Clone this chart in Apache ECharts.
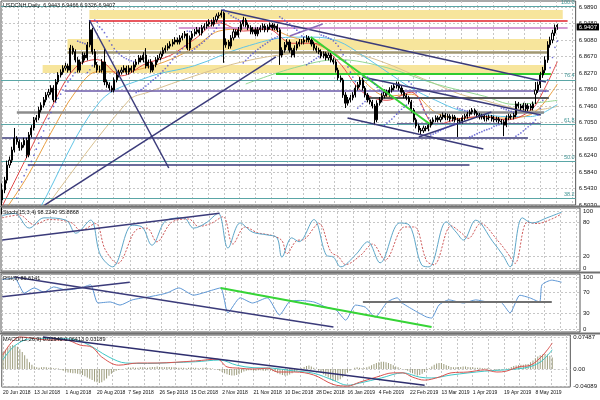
<!DOCTYPE html>
<html><head><meta charset="utf-8">
<script src="https://cdn.jsdelivr.net/npm/echarts@6/dist/echarts.min.js"></script>
<style>html,body{margin:0;padding:0;background:#fff}#c{width:600px;height:400px}</style>
</head><body><div id="c"></div>
<script>
// ---------- DATA ----------
const dateLabels = ['20 Jun 2018','13 Jul 2018','1 Aug 2018','20 Aug 2018','7 Sep 2018','26 Sep 2018','15 Oct 2018','2 Nov 2018','21 Nov 2018','10 Dec 2018','28 Dec 2018','16 Jan 2019','4 Feb 2019','22 Feb 2019','13 Mar 2019','1 Apr 2019','19 Apr 2019','8 May 2019'];
const priceTicks = [6.5030,6.5430,6.5840,6.6240,6.6650,6.7050,6.7460,6.7860,6.8270,6.8670,6.9080,6.9480,6.9890];
const stochTicks = [0,20,80,100];
const rsiTicks = [0,30,70,100];
const macdTicks = [-0.04089,0,0.07487];

const opens = [6.515,6.540,6.564,6.601,6.613,6.638,6.667,6.658,6.643,6.650,
6.662,6.626,6.675,6.692,6.712,6.717,6.736,6.748,6.761,6.773,
6.780,6.790,6.761,6.805,6.822,6.829,6.839,6.844,6.834,6.888,
6.879,6.859,6.834,6.854,6.871,6.864,6.896,6.933,6.879,6.847,
6.834,6.834,6.854,6.805,6.798,6.790,6.785,6.810,6.822,
6.829,6.834,6.839,6.829,6.839,6.834,6.847,6.854,6.864,6.859,
6.871,6.844,6.854,6.834,6.847,6.859,6.864,6.874,6.883,6.888,
6.893,6.898,6.903,6.908,6.903,6.913,6.918,6.923,6.888,6.913,
6.923,6.928,6.933,6.925,6.938,6.942,6.947,6.952,6.947,6.957,
6.967,6.969,6.974,6.896,6.903,6.893,6.913,6.928,6.920,6.933,
6.947,6.957,6.945,6.938,6.928,6.933,6.923,6.933,6.938,6.942,
6.933,6.940,6.945,6.938,6.942,6.933,6.871,6.883,6.896,6.903,
6.883,6.871,6.888,6.898,6.903,6.903,6.908,6.913,6.908,
6.898,6.888,6.883,6.879,6.869,6.874,6.864,6.871,6.859,6.854,
6.834,6.815,6.810,6.773,6.753,6.761,6.766,6.773,6.790,6.798,
6.810,6.790,6.773,6.761,6.756,6.746,6.712,6.753,6.761,6.771,
6.780,6.775,6.785,6.790,6.795,6.800,6.790,6.780,6.771,6.766,
6.756,6.736,6.712,6.697,6.687,6.685,6.692,6.690,6.699,6.707,
6.712,6.717,6.712,6.719,6.724,6.717,6.721,6.714,6.719,6.712,
6.709,6.709,6.717,6.721,6.726,6.731,6.736,6.729,6.724,6.719,
6.721,6.714,6.717,6.719,6.714,6.712,6.714,6.709,6.707,
6.699,6.717,6.721,6.719,6.724,6.751,6.746,6.741,6.748,6.739,
6.746,6.741,6.775,6.785,6.798,6.822,6.834,6.859,6.896,6.908,
6.925,6.944];
const closes = [6.540,6.564,6.601,6.613,6.638,6.667,6.658,6.643,6.650,6.662,
6.626,6.675,6.692,6.712,6.717,6.736,6.748,6.761,6.773,6.780,
6.790,6.761,6.805,6.822,6.829,6.839,6.844,6.834,6.888,6.879,
6.859,6.834,6.854,6.871,6.864,6.896,6.933,6.879,6.847,6.834,
6.834,6.854,6.805,6.798,6.790,6.785,6.810,6.822,6.829,
6.834,6.839,6.829,6.839,6.834,6.847,6.854,6.864,6.859,6.871,
6.844,6.854,6.834,6.847,6.859,6.864,6.874,6.883,6.888,6.893,
6.898,6.903,6.908,6.903,6.913,6.918,6.923,6.888,6.913,6.923,
6.928,6.933,6.925,6.938,6.942,6.947,6.952,6.947,6.957,6.967,
6.969,6.974,6.896,6.903,6.893,6.913,6.928,6.920,6.933,6.947,
6.957,6.945,6.938,6.928,6.933,6.923,6.933,6.938,6.942,6.933,
6.940,6.945,6.938,6.942,6.933,6.871,6.883,6.896,6.903,6.883,
6.871,6.888,6.898,6.903,6.903,6.908,6.913,6.908,6.898,
6.888,6.883,6.879,6.869,6.874,6.864,6.871,6.859,6.854,6.834,
6.815,6.810,6.773,6.753,6.761,6.766,6.773,6.790,6.798,6.810,
6.790,6.773,6.761,6.756,6.746,6.712,6.753,6.761,6.771,6.780,
6.775,6.785,6.790,6.795,6.800,6.790,6.780,6.771,6.766,6.756,
6.736,6.712,6.697,6.687,6.685,6.692,6.690,6.699,6.707,6.712,
6.717,6.712,6.719,6.724,6.717,6.721,6.714,6.719,6.712,6.709,
6.709,6.717,6.721,6.726,6.731,6.736,6.729,6.724,6.719,6.721,
6.714,6.717,6.719,6.714,6.712,6.714,6.709,6.707,6.699,
6.717,6.721,6.719,6.724,6.751,6.746,6.741,6.748,6.739,6.746,
6.741,6.751,6.785,6.798,6.822,6.834,6.859,6.896,6.908,6.925,
6.938,6.941];
const highs = [6.556,6.572,6.612,6.622,6.646,6.692,6.672,6.664,6.657,6.668,
6.668,6.682,6.699,6.719,6.724,6.744,6.755,6.768,6.780,6.788,
6.797,6.797,6.812,6.829,6.836,6.846,6.852,6.850,6.896,6.894,
6.885,6.866,6.860,6.878,6.877,6.903,6.957,6.938,6.886,6.854,
6.845,6.861,6.888,6.811,6.804,6.796,6.816,6.829,6.835,
6.841,6.846,6.845,6.846,6.845,6.854,6.861,6.871,6.870,6.878,
6.888,6.860,6.861,6.853,6.866,6.871,6.880,6.890,6.895,6.900,
6.905,6.910,6.915,6.914,6.920,6.925,6.930,6.925,6.919,6.930,
6.935,6.940,6.939,6.945,6.949,6.954,6.959,6.958,6.964,6.973,
6.976,6.982,6.978,6.912,6.908,6.920,6.935,6.934,6.940,6.954,
6.965,6.962,6.951,6.944,6.940,6.939,6.940,6.944,6.949,6.948,
6.946,6.951,6.950,6.948,6.947,6.938,6.890,6.903,6.910,6.909,
6.889,6.895,6.905,6.910,6.910,6.915,6.920,6.918,6.913,
6.904,6.894,6.889,6.885,6.880,6.879,6.877,6.876,6.865,6.860,
6.840,6.821,6.815,6.780,6.768,6.773,6.780,6.797,6.805,6.817,
6.815,6.795,6.778,6.766,6.761,6.751,6.760,6.768,6.778,6.787,
6.786,6.792,6.797,6.802,6.806,6.805,6.795,6.785,6.776,6.771,
6.761,6.741,6.717,6.702,6.692,6.698,6.697,6.705,6.713,6.718,
6.723,6.722,6.725,6.730,6.729,6.727,6.726,6.725,6.724,6.717,
6.715,6.723,6.727,6.732,6.737,6.741,6.740,6.734,6.729,6.727,
6.726,6.723,6.725,6.724,6.722,6.720,6.719,6.714,6.712,
6.723,6.727,6.726,6.730,6.758,6.756,6.751,6.754,6.753,6.752,
6.751,6.757,6.805,6.806,6.830,6.842,6.868,6.905,6.916,6.933,
6.946,6.947];
const lows = [6.480,6.532,6.556,6.594,6.606,6.632,6.651,6.636,6.637,6.644,
6.618,6.620,6.669,6.686,6.706,6.711,6.730,6.742,6.755,6.767,
6.774,6.755,6.755,6.799,6.816,6.823,6.833,6.828,6.828,6.872,
6.853,6.828,6.828,6.848,6.858,6.858,6.890,6.872,6.840,6.828,
6.828,6.828,6.797,6.791,6.784,6.780,6.779,6.804,6.816,
6.823,6.828,6.823,6.823,6.828,6.828,6.841,6.848,6.853,6.853,
6.838,6.838,6.828,6.829,6.841,6.853,6.858,6.868,6.877,6.882,
6.887,6.892,6.897,6.897,6.897,6.907,6.912,6.883,6.882,6.907,
6.917,6.922,6.919,6.919,6.932,6.936,6.941,6.941,6.941,6.951,
6.961,6.963,6.852,6.889,6.886,6.887,6.907,6.914,6.914,6.927,
6.941,6.939,6.932,6.922,6.922,6.917,6.917,6.927,6.932,6.927,
6.927,6.934,6.932,6.932,6.927,6.847,6.865,6.877,6.890,6.877,
6.865,6.865,6.882,6.892,6.897,6.897,6.902,6.902,6.892,
6.882,6.877,6.873,6.863,6.863,6.858,6.858,6.853,6.848,6.828,
6.809,6.804,6.766,6.741,6.747,6.755,6.760,6.767,6.784,6.792,
6.784,6.767,6.755,6.750,6.740,6.699,6.706,6.747,6.755,6.765,
6.769,6.769,6.779,6.784,6.789,6.784,6.774,6.765,6.760,6.750,
6.730,6.706,6.691,6.681,6.675,6.680,6.684,6.684,6.693,6.701,
6.706,6.706,6.706,6.713,6.711,6.711,6.708,6.708,6.706,6.670,
6.703,6.703,6.711,6.715,6.720,6.725,6.723,6.718,6.713,6.713,
6.708,6.708,6.711,6.708,6.706,6.706,6.703,6.701,6.672,
6.694,6.711,6.713,6.713,6.718,6.740,6.735,6.735,6.733,6.733,
6.735,6.735,6.751,6.778,6.790,6.815,6.827,6.852,6.889,6.900,
6.918,6.933];
const sarValues = [6.450,6.455,6.460,6.470,6.480,6.500,6.520,6.540,6.560,6.575,
6.590,6.600,6.610,6.625,6.640,6.655,6.670,6.685,6.700,6.715,
6.730,6.745,6.755,6.765,6.775,6.785,6.795,6.805,6.812,6.820,
6.828,6.905,6.903,6.901,6.899,6.828,6.835,6.845,6.957,6.952,
6.940,6.934,6.926,6.916,6.906,6.896,6.887,6.880,6.874,
6.869,6.865,6.862,6.859,6.857,6.855,6.779,6.782,6.786,6.790,
6.795,6.800,6.805,6.810,6.815,6.820,6.826,6.832,6.838,6.845,
6.852,6.860,6.867,6.874,6.880,6.887,6.893,6.930,6.929,6.882,
6.886,6.891,6.896,6.900,6.905,6.911,6.917,6.923,6.930,6.937,
6.945,6.952,6.982,6.978,6.973,6.968,6.964,6.961,6.958,6.955,
6.852,6.858,6.864,6.870,6.875,6.880,6.885,6.890,6.894,6.898,
6.902,6.906,6.910,6.913,6.916,6.965,6.961,6.956,6.951,6.947,
6.942,6.937,6.932,6.927,6.918,6.916,6.847,6.851,6.855,
6.859,6.863,6.867,6.920,6.918,6.916,6.913,6.910,6.906,6.900,
6.893,6.884,6.872,6.857,6.842,6.829,6.817,6.806,6.741,6.746,
6.752,6.757,6.817,6.813,6.808,6.800,6.792,6.785,6.779,6.699,
6.704,6.709,6.714,6.720,6.726,6.732,6.738,6.743,6.748,6.806,
6.800,6.791,6.779,6.765,6.750,6.737,6.726,6.717,6.675,6.677,
6.680,6.683,6.686,6.689,6.692,6.695,6.698,6.700,6.702,6.741,
6.739,6.737,6.735,6.734,6.670,6.672,6.675,6.678,6.681,6.683,
6.686,6.688,6.690,6.692,6.696,6.698,6.700,6.741,6.739,
6.737,6.735,6.733,6.731,6.672,6.676,6.680,6.685,6.690,6.695,
6.700,6.705,6.712,6.724,6.740,6.760,6.782,6.810,6.840,6.865,
6.890,6.905];
const macdHist = [0.040,0.045,0.050,0.054,0.056,0.055,0.052,0.046,0.040,0.032,0.024,0.016,0.010,
0.006,0.004,0.003,0.004,0.005,0.004,0.003,0.003,0.002,0.002,0.001,
-0.002,-0.004,-0.006,-0.008,-0.009,-0.010,-0.010,-0.011,-0.012,
-0.014,-0.017,-0.020,-0.023,-0.026,-0.029,-0.031,-0.033,-0.031,-0.027,-0.022,-0.016,
-0.011,-0.007,-0.004,-0.002,-0.001,0.000,
0.002,0.003,0.003,0.004,0.003,0.003,0.004,0.004,0.003,0.003,
0.004,0.005,0.005,0.006,0.005,0.005,0.004,0.005,0.005,0.004,0.004,0.003,0.003,0.003,0.003,
0.002,0.003,0.003,0.003,0.003,0.002,0.002,0.003,0.003,0.002,0.002,0.001,0.000,
-0.002,-0.004,-0.007,-0.010,-0.012,-0.014,-0.015,-0.015,-0.014,-0.012,-0.009,-0.006,-0.004,
-0.003,-0.003,-0.004,-0.004,-0.003,-0.003,-0.004,-0.004,-0.003,-0.004,
-0.005,-0.007,-0.010,-0.012,-0.014,-0.015,-0.015,-0.013,-0.010,-0.007,
-0.005,-0.001,0.002,0.005,0.007,0.008,0.006,0.003,
0.000,-0.004,-0.008,-0.012,-0.016,-0.020,-0.024,-0.027,-0.028,-0.027,-0.024,-0.019,-0.013,-0.008,
-0.004,0.000,0.003,0.004,0.003,0.002,0.002,
0.004,0.006,0.009,0.012,0.014,0.016,0.017,0.017,0.016,0.014,0.012,0.009,0.006,0.004,0.002,
0.000,-0.002,-0.004,-0.007,-0.010,-0.013,-0.015,-0.014,
-0.011,-0.007,-0.003,0.002,0.006,0.010,0.013,0.014,0.014,0.012,0.009,
0.007,0.005,0.004,0.004,0.005,0.005,0.006,0.006,0.005,0.004,0.004,0.003,0.003,0.003,0.002,0.002,0.002,0.001,
0.000,-0.001,-0.002,-0.002,-0.001,0.000,0.001,0.002,
0.005,0.007,0.008,0.009,0.010,0.010,0.011,0.012,0.016,0.020,0.025,0.029,0.032,0.034,0.035,0.034,0.031,0.027];

// moving averages, sampled [bar, price]
const maRed = [[0,6.50],[10,6.62],[20,6.74],[30,6.84],[39,6.86],[49,6.82],[59,6.85],[69,6.87],[79,6.91],[89,6.95],[99,6.93],[109,6.935],[119,6.90],[128,6.90],[138,6.855],[148,6.78],[158,6.76],[168,6.78],[178,6.70],[188,6.715],[198,6.72],[207,6.712],[217,6.735],[222,6.78],[228,6.855]];
const maOrange = [[0,6.48],[10,6.57],[20,6.68],[30,6.78],[39,6.83],[49,6.83],[59,6.84],[69,6.86],[79,6.89],[89,6.93],[99,6.935],[109,6.935],[119,6.915],[128,6.90],[138,6.87],[148,6.81],[158,6.77],[168,6.775],[178,6.73],[188,6.715],[198,6.72],[207,6.716],[217,6.725],[222,6.75],[228,6.80]];
const maCyan = [[10,6.44],[15,6.49],[40,6.756],[60,6.817],[79,6.845],[99,6.89],[119,6.915],[128,6.915],[138,6.905],[148,6.87],[158,6.83],[168,6.79],[178,6.76],[188,6.735],[198,6.725],[207,6.72],[217,6.72],[228,6.75]];
const maTan = [[12,6.44],[17,6.49],[52,6.76],[60,6.78],[79,6.82],[99,6.855],[119,6.875],[138,6.88],[148,6.87],[158,6.85],[168,6.825],[178,6.80],[188,6.775],[198,6.76],[207,6.745],[217,6.735],[228,6.745]];
const maGreen = [[100,6.80],[120,6.84],[138,6.86],[158,6.84],[178,6.80],[198,6.77],[210,6.75],[228,6.76]];

// oscillators, sampled [bar, value]
const stochMain = [[0,92],[5,96],[11,70],[17,88],[26,84],[30,61],[36,84],[40,23],[45,2],[53,75],[57,72],[61,40],[67,84],[74,88],[78,70],[83,79],[88,96],[92,35],[97,79],[102,63],[108,58],[112,53],[114,19],[118,53],[121,46],[127,85],[132,23],[135,19],[138,2],[144,23],[149,46],[154,9],[162,79],[166,75],[171,5],[174,2],[181,81],[185,63],[188,49],[193,84],[200,46],[204,23],[207,2],[212,88],[216,79],[222,88],[228,98]];
const stochSignal = [[0,88],[7,93],[13,76],[19,85],[28,80],[32,66],[38,78],[42,32],[47,8],[55,68],[59,70],[63,46],[69,80],[76,86],[80,73],[85,78],[90,90],[94,42],[99,72],[104,62],[110,57],[114,48],[116,25],[120,48],[123,50],[129,78],[134,28],[137,20],[140,6],[146,22],[151,42],[156,14],[164,72],[168,72],[173,12],[176,6],[183,74],[187,62],[190,52],[195,78],[202,48],[206,26],[209,8],[214,80],[218,78],[224,86],[228,95]];
const rsiLine = [[0,95],[5,98],[9,69],[13,79],[17,71],[21,81],[26,75],[32,79],[36,85],[39,50],[44,52],[48,46],[53,56],[60,62],[67,69],[72,79],[78,65],[83,71],[89,79],[92,31],[97,60],[102,50],[108,60],[113,27],[117,52],[121,55],[127,52],[132,42],[136,37],[140,17],[144,46],[148,42],[152,23],[157,52],[161,60],[163,50],[169,33],[173,23],[175,21],[178,46],[182,56],[188,50],[193,56],[198,52],[203,52],[207,31],[211,65],[215,60],[219,52],[220,85],[224,94],[228,90]];
const macdMain = [[0,0.033],[7,0.075],[19,0.068],[26,0.068],[32,0.056],[37,0.051],[41,0.028],[48,0.009],[56,0.014],[64,0.014],[72,0.016],[80,0.019],[89,0.023],[93,0.005],[98,0.002],[104,0],[110,0.002],[114,-0.007],[121,-0.007],[129,-0.014],[137,-0.036],[143,-0.040],[148,-0.031],[155,-0.019],[162,-0.009],[166,-0.009],[170,-0.019],[175,-0.026],[181,-0.019],[186,-0.009],[193,-0.007],[200,-0.002],[205,-0.007],[209,-0.005],[214,0.005],[219,0.009],[223,0.026],[226,0.045],[228,0.061]];
const macdSignal = [[0,0.022],[5,0.055],[12,0.071],[26,0.071],[34,0.061],[44,0.028],[51,0.014],[60,0.013],[70,0.015],[80,0.017],[90,0.021],[97,0.009],[104,0.003],[112,0.002],[120,-0.004],[129,-0.010],[137,-0.026],[143,-0.038],[148,-0.033],[157,-0.021],[166,-0.009],[173,-0.019],[178,-0.021],[186,-0.014],[200,-0.005],[216,0.002],[223,0.016],[228,0.045]];

// chart objects: zones [bar1, bar2, priceLow, priceHigh], levels [bar1, bar2, price], trends [bar1, v1, bar2, v2]
const supplyZones = [[35.8,230.2,6.9595,6.9816],[26.8,224.5,6.8834,6.9104],[16.6,222.9,6.8269,6.8466]];
const fiboLevels = [6.9890,6.8098,6.6989,6.6094,6.5198];
const fiboNames = ['100.0','76.4','61.8','50.0','38.2'];
const redLevels = [[35.8,232.2,6.9559]];
const orchidLevels = [[72.5,232.2,6.9375]];
const khakiLevels = [[26.8,224.5,6.8785]];
const greenLevels = [[112.4,225.3,6.8245]];
const slateLevels = [[25.6,224.5,6.7828]];
const darkLevels = [[149.9,224.5,6.7656]];
const greyLevels = [[6,222.5,6.7312]];
const navyLevels = [[162.1,221.2,6.7018],[0,215.9,6.6686],[10.5,191.9,6.6011]];
const navyTrends = [[17.4,6.5029,112.4,6.8663],[35.8,6.9571,68.4,6.5938],[90,6.9816,223.3,6.8049],[147.9,6.8172,221.2,6.7239],[141.8,6.7165,197.6,6.6404],[171.1,6.6699,200.9,6.7312]];
const greenTrends = [[126.7,6.9154,175.6,6.7018]];
const purpleTrends = [[118.1,6.9178,131.6,6.9473]];
const stochTrends = [[0,49,88.6,96]];
const rsiNavyTrends = [[0,62,52,90],[5,100,135,4]];
const rsiGreenTrends = [[89,79,175,4]];
const rsiGreyLevels = [[147,224,52]];
const macdTrends = [[16.6,0.075,175,-0.038]];
const lastPrice = 6.9407;

const N = closes.length;
[opens, highs, lows, sarValues, macdHist].forEach(a => { if (a.length !== N) throw new Error('length mismatch ' + a.length + ' vs ' + N); });

// ---------- CHART ----------
const FONT = 'Liberation Sans';
const XMIN = -0.5, XMAX = 235.5, LABEL_STEP = 13;
const labelTicks = dateLabels.map((d, k) => k * LABEL_STEP);
const vGridTicks = [];
for (let k = 0; k * LABEL_STEP / 2 <= XMAX; k++) vGridTicks.push(k * LABEL_STEP / 2);

const gridLine = { show: true, lineStyle: { color: '#c6c6c6', type: [2, 2], width: 1 } };
const grids = [
  { left: 1, top: 1, width: 579, height: 204 },
  { left: 1, top: 208, width: 579, height: 63 },
  { left: 1, top: 274, width: 579, height: 58 },
  { left: 1, top: 335, width: 579, height: 52 }
].map(g => Object.assign({ show: true, borderColor: '#555', borderWidth: 1 }, g));

const xAxes = [0, 1, 2, 3].map(g => ({
  type: 'value', gridIndex: g, min: XMIN, max: XMAX,
  axisLine: { show: false },
  axisTick: { show: false, customValues: vGridTicks },
  splitLine: gridLine,
  axisLabel: g === 3 ? {
    show: true, customValues: labelTicks, align: 'left', margin: 3, hideOverlap: false,
    fontSize: 5, fontFamily: FONT, color: '#111',
    formatter: v => dateLabels[Math.round(v / LABEL_STEP)] || ''
  } : { show: false }
}));

function yAx(g, min, max, ticks, fmt) {
  return {
    type: 'value', gridIndex: g, position: 'right', min, max, scale: true,
    axisLine: { show: false },
    axisTick: { show: false, customValues: ticks },
    splitLine: gridLine,
    axisLabel: { customValues: ticks, formatter: fmt, fontSize: 6, fontFamily: FONT, color: '#111', margin: 3 }
  };
}
const yAxes = [
  yAx(0, 6.5030, 7.0037, priceTicks, v => v.toFixed(4)),
  yAx(1, -5.3, 105.3, stochTicks, v => String(Math.round(v))),
  yAx(2, -5.8, 105.8, rsiTicks, v => String(Math.round(v))),
  yAx(3, -0.0421, 0.0796, macdTicks, v => (Math.abs(v) < 1e-9 ? '0.00' : v.toFixed(5)))
];

function segLines(g, list, color, width, z, isLevel) {
  return {
    type: 'lines', coordinateSystem: 'cartesian2d', xAxisIndex: g, yAxisIndex: g,
    silent: true, z: z || 4, polyline: false,
    lineStyle: { color, width, opacity: 1 },
    data: list.map(s => ({ coords: isLevel ? [[s[0], s[2]], [s[1], s[2]]] : [[s[0], s[1]], [s[2], s[3]]] }))
  };
}
function curve(g, data, color, width, z, extra) {
  return Object.assign({
    type: 'line', xAxisIndex: g, yAxisIndex: g, data, showSymbol: false, smooth: 0.35,
    silent: true, z: z || 2, lineStyle: { color, width: width || 1 }
  }, extra || {});
}

const candleData = closes.map((c, j) => [j, opens[j], c, lows[j], highs[j]]);

const series = [
  // zones + fibo (background)
  {
    type: 'line', xAxisIndex: 0, yAxisIndex: 0, data: [], z: 1, silent: true,
    markArea: {
      silent: true, itemStyle: { color: '#f7e59c', opacity: 1 },
      data: supplyZones.map(zn => [{ coord: [zn[0], zn[3]] }, { coord: [zn[1], zn[2]] }])
    },
    markLine: {
      silent: true, symbol: ['none', 'none'], animation: false,
      lineStyle: { color: '#5aa6a6', width: 1, type: 'solid' },
      label: { position: 'insideEndTop', fontSize: 5.5, fontFamily: FONT, color: '#3f9494', distance: 1 },
      data: fiboLevels.map((v, k) => ({ yAxis: v, label: { formatter: fiboNames[k] } }))
    }
  },
  curve(0, maTan, '#d8c090', 1),
  curve(0, maGreen, '#94d894', 1),
  curve(0, maCyan, '#60c4e6', 1),
  curve(0, maOrange, '#e9a044', 1),
  curve(0, maRed, '#e04848', 1),
  segLines(0, redLevels, '#e0202a', 1.5, 3, true),
  segLines(0, orchidLevels, '#c57ac5', 1.6, 3, true),
  segLines(0, khakiLevels, '#a09772', 2.5, 3, true),
  segLines(0, greenLevels, '#2ecc2e', 2, 3, true),
  segLines(0, slateLevels, '#6a5aa8', 1.5, 3, true),
  segLines(0, darkLevels, '#5a5a5a', 2, 3, true),
  segLines(0, greyLevels, '#8c8c8c', 2.5, 3, true),
  segLines(0, navyLevels, '#3b3b7a', 1.5, 3, true),
  {
    type: 'candlestick', xAxisIndex: 0, yAxisIndex: 0, data: candleData, z: 5, silent: true,
    barWidth: 1.6,
    itemStyle: { color: '#ffffff', color0: '#000000', borderColor: '#000000', borderColor0: '#000000', borderWidth: 1 }
  },
  segLines(0, navyTrends, '#3b3b7a', 1.5, 6),
  segLines(0, greenTrends, '#36d436', 2, 6),
  segLines(0, purpleTrends, '#8a6ab8', 1.5, 6),
  {
    type: 'scatter', xAxisIndex: 0, yAxisIndex: 0, silent: true, z: 7,
    symbolSize: 1.7, itemStyle: { color: '#4d4dcc' },
    data: sarValues.map((v, j) => [j, v]),
    markLine: {
      silent: true, symbol: ['none', 'none'], animation: false,
      lineStyle: { color: 'rgba(0,0,0,0)', width: 1 },
      label: { show: true, position: 'end', formatter: lastPrice.toFixed(4), backgroundColor: '#000', color: '#fff', fontSize: 6, fontFamily: FONT, padding: [1, 2, 0, 2], distance: 1 },
      data: [{ yAxis: lastPrice }]
    }
  },
  // Stochastic
  curve(1, stochSignal, '#cf5b5b', 1, 3, { lineStyle: { color: '#cf5b5b', width: 1, type: [2, 1.5] } }),
  curve(1, stochMain, '#5ea6c8', 1, 4),
  segLines(1, stochTrends, '#3b3b7a', 1.5, 5),
  // RSI
  curve(2, rsiLine, '#5f98d6', 1, 4, { smooth: 0.2 }),
  segLines(2, rsiNavyTrends, '#3b3b7a', 1.5, 5),
  segLines(2, rsiGreenTrends, '#36d436', 2, 5),
  segLines(2, rsiGreyLevels, '#707070', 2, 5, true),
  // MACD
  {
    type: 'bar', xAxisIndex: 3, yAxisIndex: 3, silent: true, z: 2, barWidth: 1,
    itemStyle: { color: '#9c9c7c' },
    data: macdHist.map((v, j) => [j, v])
  },
  curve(3, macdSignal, '#3fc6c6', 1, 3),
  curve(3, macdMain, '#d9534f', 1, 4),
  segLines(3, macdTrends, '#2e2e6e', 1.5, 5)
];

const txt = (t, x, y) => ({ type: 'text', left: x, top: y, silent: true, z: 100,
  style: { text: t, font: '5.5px "' + FONT + '"', fill: '#111' } });

const option = {
  animation: false,
  backgroundColor: '#ffffff',
  grid: grids,
  xAxis: xAxes,
  yAxis: yAxes,
  series,
  graphic: [
    { type: 'rect', shape: { x: 0, y: 205.5, width: 600, height: 2 }, style: { fill: '#707070' }, silent: true, z: 90 },
    { type: 'rect', shape: { x: 0, y: 271.5, width: 600, height: 2 }, style: { fill: '#707070' }, silent: true, z: 90 },
    { type: 'rect', shape: { x: 0, y: 332.5, width: 600, height: 2 }, style: { fill: '#707070' }, silent: true, z: 90 },
    txt('USDCNH,Daily  6.9443 6.9466 6.9326 6.9407', 3, 2),
    txt('Stoch(15,3,4) 98.2240 95.8868', 3, 209),
    txt('RSI(9) 86.6141', 3, 275),
    txt('MACD(12,26,9) 0.02940 0.06413 0.03189', 3, 336)
  ]
};

const chart = echarts.init(document.getElementById('c'), null, { renderer: 'canvas', width: 600, height: 400 });
chart.setOption(option);
</script>
</body></html>
